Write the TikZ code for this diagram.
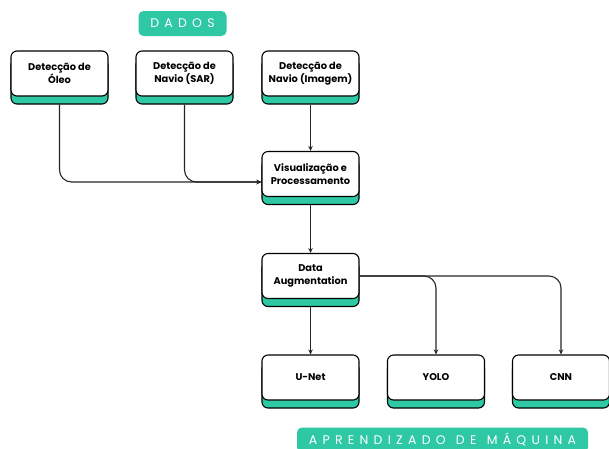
\documentclass[tikz,border=0pt]{standalone}
\usepackage{fontspec}
\setmainfont{Poppins}
\newfontfamily\tagfont[LetterSpace=42,WordSpace=1.2]{Poppins}
\usetikzlibrary{shadows,arrows.meta}
\definecolor{tealc}{RGB}{46,201,164}
\tikzset{
  x=1pt, y=-1pt,
  card/.style={draw=black, line width=1.1pt, fill=white, rounded corners=6pt,
    minimum width=97pt, minimum height=45pt, inner sep=2pt, align=center,
    font=\fontsize{9.8}{13}\selectfont\bfseries,
    general shadow={shadow xshift=0pt, shadow yshift=-8pt, fill=tealc, draw=black, line width=1.1pt}},
  tag/.style={fill=tealc, rounded corners=5pt, text=white, minimum height=25pt,
    font=\tagfont\fontsize{12.5}{14}\selectfont},
  conn/.style={draw=black!85, line width=1.1pt, rounded corners=12pt},
  arr/.style={-{Stealth[length=5pt,width=4.5pt]}}
}
\begin{document}
\begin{tikzpicture}
\useasboundingbox (0,0) rectangle (609,448);
\node[tag, minimum width=88pt] (dados) at (182.5,23.5) {DADOS};
\node[tag, minimum width=291pt] (apr) at (442.5,440) {APRENDIZADO DE MÁQUINA};

\node[card] (b1) at (59.5,73.5) {Detecção de\\Óleo};
\node[card] (b2) at (184.5,73.5) {Detecção de\\Navio (SAR)};
\node[card] (b3) at (310.5,73.5) {Detecção de\\Navio (Imagem)};
\node[card] (vis) at (310.5,174) {Visualização e\\Processamento};
\node[card] (da) at (310.5,276) {Data\\Augmentation};
\node[card] (unet) at (310.5,377.5) {U-Net};
\node[card] (yolo) at (436,377.5) {YOLO};
\node[card] (cnn) at (561,377.5) {CNN};

\coordinate (visin) at ([yshift=-8pt]vis.west);
\draw[conn, arr] ([yshift=-8pt]b1.south) |- (visin);
\draw[conn, arr] ([yshift=-8pt]b2.south) |- (visin);
\draw[conn, arr] ([yshift=-8pt]b3.south) -- (vis.north);
\draw[conn, arr] ([yshift=-8pt]vis.south) -- (da.north);
\draw[conn, arr] ([yshift=-8pt]da.south) -- (unet.north);
\draw[conn, arr] (da.east) -| (yolo.north);
\draw[conn, arr] (da.east) -| (cnn.north);
\end{tikzpicture}
\end{document}
